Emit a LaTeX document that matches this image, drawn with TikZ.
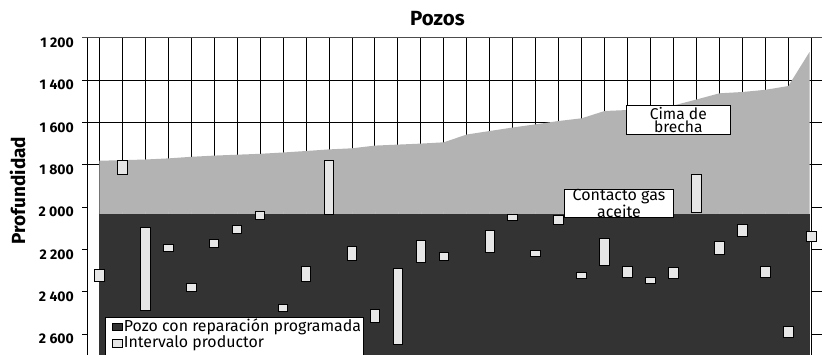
\documentclass[tikz,border=0pt]{standalone}
\usepackage{fontspec}
\setmainfont{Fira Sans}
\definecolor{darkfill}{HTML}{333333}
\definecolor{gasfill}{HTML}{B3B3B3}
\definecolor{boxfill}{HTML}{E6E6E6}
\begin{document}
\begin{tikzpicture}[x=1bp,y=-1bp,
  gridline/.style={black,line width=0.9bp},
  wellbox/.style={fill=boxfill,draw=black,line width=0.9bp},
  labelbox/.style={fill=white,draw=black,line width=0.8bp,inner sep=0pt,align=center},
  axislab/.style={inner sep=0pt,anchor=north east,font=\fontsize{14bp}{14bp}\selectfont\bfseries},
  legtext/.style={inner sep=0pt,anchor=base west,font=\fontsize{15.9bp}{16bp}\selectfont}]
\useasboundingbox (0,0) rectangle (822,354);
\clip (0,0) rectangle (822,354);
\fill[white] (0,0) rectangle (822,354);
% horizontal grid lines (1200-1800)
\foreach \i in {0,...,3}{
  \draw[gridline] (82,{37.7+42.33*\i}) -- (822,{37.7+42.33*\i});
}
% vertical grid lines
\foreach \k in {0,...,31}{
  \draw[gridline] ({99.3+22.968*\k},37.7) -- ({99.3+22.968*\k},214.3);
}
% gas zone (light gray)
\fill[gasfill] (99.3,214.3) -- plot coordinates {(99.3,160.7) (122.27,160.2) (145.24,159.5) (168.2,158.4) (191.17,156.8) (214.14,155.6) (237.11,154.7) (260.08,153.8) (283.04,152.5) (306.01,151) (328.98,149.4) (351.95,148.3) (374.92,145.6) (397.88,144.6) (420.85,143.6) (443.82,142.3) (466.79,134.5) (489.76,131) (512.72,127.5) (535.69,124.3) (558.66,121) (581.63,118.3) (604.6,111) (627.56,110) (650.53,108) (673.5,105.5) (696.47,99.5) (719.44,93.3) (742.4,92) (765.37,89.8) (788.34,86) (809.5,52)} -- (809.5,214.3) -- cycle;
% oil zone (dark)
\fill[darkfill] (99.3,214.3) rectangle (809.5,360);
% small marks at the contact
\foreach \k in {1,...,30}{
  \draw[gray!55,line width=0.7bp] ({99.3+22.968*\k},211.9) -- ({99.3+22.968*\k},214.3);
}
% ticks 2000-2600 and 1800 right
\foreach \i in {4,...,7}{
  \draw[gridline] (82,{37.7+42.33*\i}) -- (87,{37.7+42.33*\i});
}
\foreach \i in {3,...,7}{
  \draw[gridline] (811.3,{37.7+42.33*\i}) -- (822,{37.7+42.33*\i});
}
% axes
\draw[gridline] (87,37.7) -- (87,360);
\draw[gridline] (811.3,37.7) -- (811.3,360);
\draw[gray!60!black,line width=1.3bp] (82,37.7) -- (822,37.7);
% productive intervals
\foreach \k/\a/\b in {0/269.3/281, 1/160/174.3, 2/227.3/310, 3/244.3/251.7, 4/283.7/291,
  5/239.7/247, 6/225.7/233, 7/211.3/219, 8/304.3/311.7, 9/266.7/281, 10/160/214.3,
  11/246/260.3, 12/309.7/322.3, 13/268.3/344, 14/240/262, 15/252.7/260.7,
  17/230.7/252, 18/214.3/220.7, 19/250.7/256.7, 20/215/224.3, 21/272.7/278.3,
  22/238.3/265.3, 23/266.3/277.3, 24/277.3/283.3, 25/267/278.3, 26/174/212.3,
  27/241.3/254.3, 28/224.3/236.3, 29/266.3/277.7, 30/326/337.7, 31/231/241.3}{
  \draw[wellbox] ({99.3+22.968*\k-4.8},\a) rectangle ({99.3+22.968*\k+4.8},\b);
}
% labels
\node[labelbox,minimum width=104bp,minimum height=28.5bp,font=\fontsize{15.6bp}{13.6bp}\selectfont] (cima) at (678.3,119.95) {Cima de\\brecha};
\node[labelbox,minimum width=109.4bp,minimum height=26.7bp,font=\fontsize{16bp}{12bp}\selectfont] (contacto) at (619,203.35) {Contacto gas\\aceite};
% legend
\node[labelbox,anchor=north west,minimum width=257.7bp,minimum height=45bp] (legend) at (105,317.3) {};
\fill[darkfill,draw=black,line width=0.6bp] (111.9,322.9) rectangle (122.1,330.7);
\draw[wellbox,line width=0.7bp] (111.9,339.3) rectangle (122.1,346.9);
\node[legtext] (leg1) at (123.7,331.7) {Pozo con reparación programada};
\node[legtext] (leg2) at (123.7,347.7) {Intervalo productor};
% axis labels
\foreach \i/\t in {0/1 200,1/1 400,2/1 600,3/1 800,4/2 000,5/2 200,6/2 400,7/2 600}{
  \node[axislab] at (74,{37.7+42.33*\i}) {\t};
}
\node[inner sep=0pt,rotate=90,font=\fontsize{19bp}{19bp}\selectfont\bfseries] (ylab) at (17.5,190.5) {Profundidad};
\node[inner sep=0pt,anchor=base,font=\fontsize{20.5bp}{20.5bp}\selectfont\bfseries] (title) at (437.5,25) {Pozos};
\end{tikzpicture}
\end{document}
